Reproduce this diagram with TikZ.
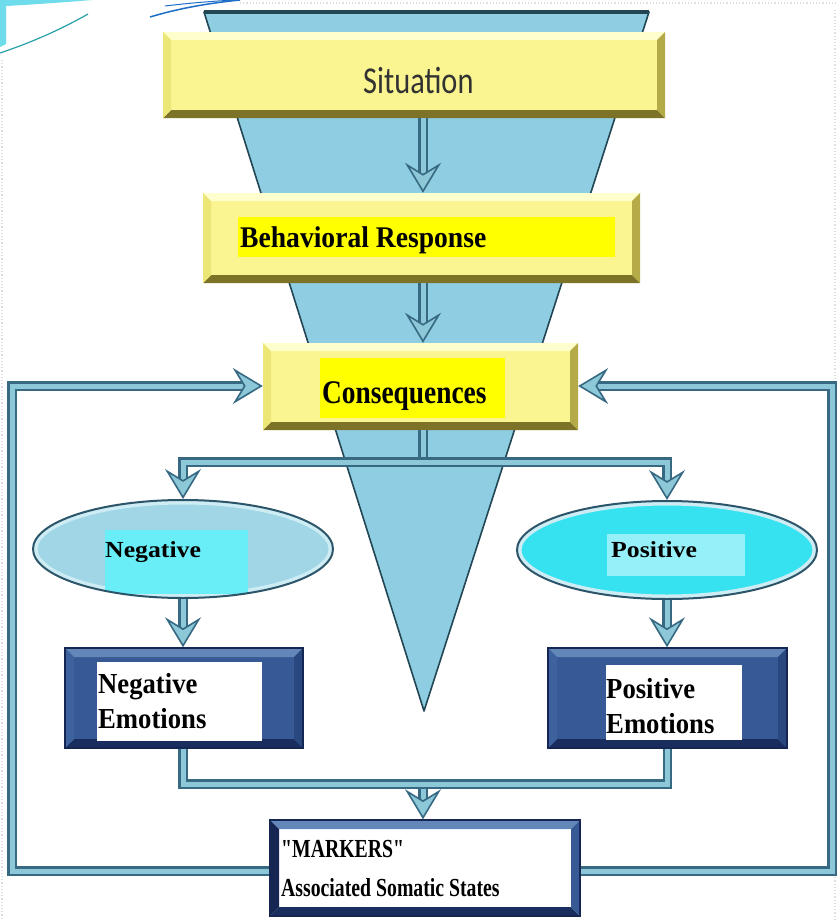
\documentclass[tikz,border=0pt]{standalone}
\usepackage{fontspec}
\setmainfont{Liberation Serif}
\newfontfamily\sansA{Carlito}[FakeStretch=0.8]
\newfontfamily\serifA{Liberation Serif}[FakeStretch=0.92]
\newfontfamily\serifB{Liberation Serif}[FakeStretch=0.83]
\newfontfamily\serifC{Liberation Serif}[FakeStretch=1.12]
\newfontfamily\serifD{Liberation Serif}[FakeStretch=0.76]
\usetikzlibrary{arrows.meta,calc,shapes.geometric}

\definecolor{funnelfill}{RGB}{143,206,226}
\definecolor{funneledge}{RGB}{35,70,85}
\definecolor{pipedark}{RGB}{55,105,130}
\definecolor{pipelight}{RGB}{140,200,215}
\definecolor{yface}{RGB}{250,245,145}
\definecolor{ytop}{RGB}{255,255,205}
\definecolor{yleft}{RGB}{236,230,118}
\definecolor{yright}{RGB}{180,170,72}
\definecolor{ybottom}{RGB}{125,115,40}
\definecolor{yhi}{RGB}{255,255,0}
\definecolor{bface}{RGB}{55,90,150}
\definecolor{btop}{RGB}{100,135,185}
\definecolor{bleft}{RGB}{62,98,158}
\definecolor{bright}{RGB}{42,72,128}
\definecolor{bbottom}{RGB}{25,45,95}
\definecolor{bedge}{RGB}{22,38,82}
\definecolor{ellfill}{RGB}{160,214,230}
\definecolor{ellrim}{RGB}{205,236,244}
\definecolor{elledge}{RGB}{45,85,105}
\definecolor{negcyan}{RGB}{105,238,248}
\definecolor{poscyan}{RGB}{55,226,240}
\definecolor{poslight}{RGB}{150,240,250}
\definecolor{textgrey}{RGB}{50,50,50}
\definecolor{swcyan}{RGB}{110,220,235}
\definecolor{swteal}{RGB}{40,160,170}
\definecolor{swblue}{RGB}{30,110,200}
\definecolor{dotgrey}{RGB}{222,222,228}

\tikzset{
  bevelbox/.style n args={6}{rectangle, inner sep=0pt, fill=#6,
    path picture={
      \fill[#2] (path picture bounding box.north west) -- (path picture bounding box.north east) -- ++(-#1,#1) -- ([shift={(#1,#1)}]path picture bounding box.north west) -- cycle;
      \fill[#4] (path picture bounding box.south west) -- (path picture bounding box.south east) -- ++(-#1,-#1) -- ([shift={(#1,-#1)}]path picture bounding box.south west) -- cycle;
      \fill[#3] (path picture bounding box.north east) -- (path picture bounding box.south east) -- ++(-#1,-#1) -- ([shift={(-#1,#1)}]path picture bounding box.north east) -- cycle;
      \fill[#5] (path picture bounding box.north west) -- (path picture bounding box.south west) -- ++(#1,-#1) -- ([shift={(#1,#1)}]path picture bounding box.north west) -- cycle;
    }},
  ybox/.style={bevelbox={8}{ytop}{yright}{ybottom}{yleft}{yface}},
  bbox/.style={bevelbox={9}{btop}{bright}{bbottom}{bleft}{bface}, draw=bedge, line width=1.5pt},
  mbox/.style={bevelbox={9}{btop}{bface}{bbottom}{bedge}{white}, draw=bedge, line width=1.5pt},
  ell/.style={ellipse, draw=elledge, line width=2pt, inner sep=0pt, minimum width=300pt, minimum height=98pt},
  pipe/.style={draw=pipedark, line width=2.4pt, double=pipelight, double distance=5pt},
  tip/.style={-{Stealth[length=30pt, width=36pt, inset=11pt, fill=pipelight, line width=1.6pt]}},
  tipboth/.style={{Stealth[length=30pt, width=36pt, inset=11pt, fill=pipelight, line width=1.6pt]}-{Stealth[length=30pt, width=36pt, inset=11pt, fill=pipelight, line width=1.6pt]}},
  txt/.style={inner sep=0pt, text=black},
}

\begin{document}
\begin{tikzpicture}[x=1pt, y=-1pt]
\useasboundingbox (0,0) rectangle (838,921);
\fill[white] (0,0) rectangle (838,921);

% slide decoration
\draw[dotgrey, line width=1.2pt, dotted] (240,3) -- (838,3);
\draw[dotgrey, line width=1.2pt, dotted] (2,60) -- (2,921);
\draw[dotgrey, line width=1.2pt, dotted] (835,10) -- (835,921);
\fill[swcyan] (0,0) -- (92,0) .. controls (55,3) and (25,5) .. (6,6) -- (6,44) -- (0,47) -- cycle;
\draw[swteal, line width=1.2pt] (0,53) .. controls (30,43) and (60,30) .. (88,14);
\draw[swblue, line width=1.5pt] (150,17) .. controls (180,8) and (210,3) .. (240,0);
\draw[swblue, line width=1pt] (165,6) .. controls (190,3) and (215,1) .. (235,0);

% funnel
\coordinate (ftl) at (204,12);
\coordinate (ftr) at (649,12);
\coordinate (fap) at (424,711);
\filldraw[fill=funnelfill, draw=funneledge, line width=1.6pt, line join=round] (ftl) -- (ftr) -- (fap) -- cycle;
\draw[funneledge, line width=4pt] (ftl) -- (ftr);

% axis coordinates
\coordinate (axis) at (423,0);
\coordinate (split) at (423,462);
\coordinate (merge) at (423,784);
\coordinate (cBL) at (12,871);
\coordinate (cTL) at (12,386);
\coordinate (cBR) at (832,871);
\coordinate (cTR) at (832,386);

% boxes
\node[ybox, minimum width=502pt, minimum height=86pt] (sit) at (414,75) {};
\node[txt, anchor=base west, text=textgrey, font=\sansA\fontsize{38}{44}\selectfont] (sittxt) at (363,93) {Situation};

\node[ybox, minimum width=437pt, minimum height=90pt] (beh) at (421.5,238) {};
\fill[yhi] (238,217) rectangle (615,257);
\node[txt, anchor=base west, font=\serifA\bfseries\fontsize{30}{36}\selectfont] (behtxt) at (240,247) {Behavioral Response};

\node[ybox, minimum width=315pt, minimum height=87pt] (cons) at (420.5,386.5) {};
\fill[yhi] (320,358) rectangle (505,418);
\node[txt, anchor=base west, font=\serifB\bfseries\fontsize{33}{40}\selectfont] (constxt) at (322,403) {Consequences};

% ellipses
\node[ell, fill=ellfill, path picture={
   \draw[ellrim, line width=9pt] (path picture bounding box.center) ellipse [x radius=150, y radius=49];
   \fill[negcyan] ([shift={(-78,-19)}]path picture bounding box.center) rectangle ([shift={(65,45)}]path picture bounding box.center);
 }] (neg) at (183,549) {};
\node[txt, anchor=base west, font=\serifC\bfseries\fontsize{23}{28}\selectfont] (negtxt) at (105,557) {Negative};

\node[ell, fill=poscyan, path picture={
   \draw[ellrim, line width=9pt] (path picture bounding box.center) ellipse [x radius=150, y radius=49];
   \fill[poslight] ([shift={(-60,-16)}]path picture bounding box.center) rectangle ([shift={(78,26)}]path picture bounding box.center);
 }] (pos) at (667,550) {};
\node[txt, anchor=base west, font=\serifC\bfseries\fontsize{23}{28}\selectfont] (postxt) at (611,557) {Positive};

% emotion boxes
\node[bbox, minimum width=238pt, minimum height=100pt] (negemo) at (184,698) {};
\fill[white] (97,662) rectangle (262,741);
\node[txt, anchor=north west, align=left, font=\serifA\bfseries\fontsize{29}{35}\selectfont] (negemotxt) at (98,673) {Negative\\Emotions};

\node[bbox, minimum width=239pt, minimum height=100pt] (posemo) at (667.5,698) {};
\fill[white] (606,665) rectangle (742,740);
\node[txt, anchor=north west, align=left, font=\serifA\bfseries\fontsize{29}{35}\selectfont] (posemotxt) at (606,678) {Positive\\Emotions};

% markers box
\node[mbox, minimum width=310pt, minimum height=96pt] (mark) at (425,868) {};
\node[txt, anchor=north west, align=left, font=\serifD\bfseries\fontsize{26}{39}\selectfont] (marktxt) at (281,840) {"MARKERS"\\Associated Somatic States};

% connectors
\draw[pipe, tip] (sit.south -| axis) -- (beh.north -| axis);
\draw[pipe, tip] (beh.south -| axis) -- (cons.north -| axis);
\draw[pipe] (cons.south -| axis) -- (split);
\draw[pipe, tipboth] (neg.north) |- (split) -| (pos.north);
\draw[pipe, tip] (neg.south) -- (neg.south |- negemo.north);
\draw[pipe, tip] (pos.south) -- (pos.south |- posemo.north);
\draw[pipe, tip] (merge) -- (mark.north -| merge);
\draw[pipe] (negemo.south -| neg.south) |- (merge) -| (posemo.south);
\draw[pipe, tip] (mark.west |- cBL) -- (cBL) -- (cTL) -- (cons.west |- cTL);
\draw[pipe, tip] (mark.east |- cBR) -- (cBR) -- (cTR) -- (cons.east |- cTR);
\end{tikzpicture}
\end{document}
